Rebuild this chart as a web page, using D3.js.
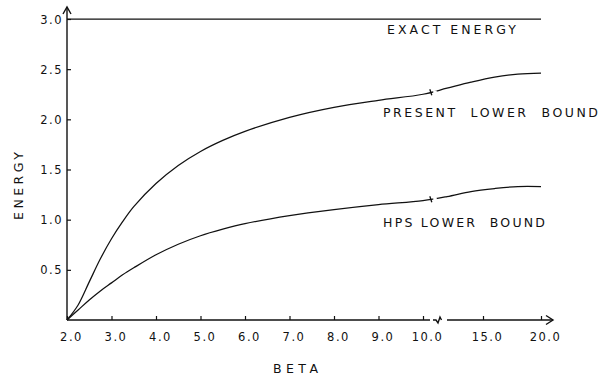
<!DOCTYPE html>
<html>
<head>
<meta charset="utf-8">
<script src="https://cdn.jsdelivr.net/npm/d3@7"></script>
<style>
  body { margin: 0; background: #fff; }
  svg { display: block; }
  text { font-family: "DejaVu Sans", sans-serif; fill: #111; }
</style>
</head>
<body>
<svg id="chart" width="603" height="378"></svg>
<script>
// ---- data ----
var betaVals = [2.0, 2.25, 2.5, 2.75, 3.0, 3.25, 3.5, 4.0, 4.5, 5.0, 5.5, 6.0, 7.0, 8.0, 9.0, 10.0, 12.0, 14.0, 16.0, 18.0, 20.0];
var presentBound = [0, 0.15, 0.38, 0.61, 0.81, 0.98, 1.13, 1.36, 1.54, 1.68, 1.79, 1.88, 2.02, 2.12, 2.19, 2.25, 2.31, 2.37, 2.42, 2.45, 2.46];
var hpsBound = [0, 0.10, 0.20, 0.29, 0.37, 0.45, 0.52, 0.65, 0.755, 0.84, 0.905, 0.96, 1.04, 1.10, 1.15, 1.19, 1.23, 1.28, 1.31, 1.33, 1.33];
var exactBeta = [2.0, 20.0];
var exactEnergy = [3.0, 3.0];

var xTicks = [2, 3, 4, 5, 6, 7, 8, 9, 10, 15, 20];
var xTickLabels = ["2.0", "3.0", "4.0", "5.0", "6.0", "7.0", "8.0", "9.0", "10.0", "15.0", "20.0"];
var yTicks = [0.5, 1.0, 1.5, 2.0, 2.5, 3.0];
var yTickLabels = ["0.5", "1.0", "1.5", "2.0", "2.5", "3.0"];

var axisBreak = 11.25;   // squiggle on the beta axis
var curveBreak = 10.65;  // small marks on the curves

var svg = d3.select("#chart");

// broken beta axis: 2..10 evenly, then 15, 20 compressed
var x = d3.scaleLinear()
    .domain([2, 10, 15, 20])
    .range([67, 423, 483, 541]);

var y = d3.scaleLinear()
    .domain([0, 3])
    .range([320, 19]);

// axes (ticks point inward like the original drawing)
var xAxis = svg.append("g")
    .attr("transform", "translate(0," + y(0) + ")")
    .call(d3.axisBottom(x)
        .tickValues(xTicks)
        .tickFormat(function(d, i) { return xTickLabels[i]; })
        .tickSizeInner(-4)
        .tickSizeOuter(0)
        .tickPadding(13));
xAxis.select(".domain").remove();
xAxis.selectAll("text")
    .attr("dx", 4)
    .style("font-size", "11.5px")
    .style("letter-spacing", "1.5px");

var yAxis = svg.append("g")
    .attr("transform", "translate(" + x(2) + ",0)")
    .call(d3.axisLeft(y)
        .tickValues(yTicks)
        .tickFormat(function(d, i) { return yTickLabels[i]; })
        .tickSizeInner(-4)
        .tickSizeOuter(0)
        .tickPadding(4));
yAxis.select(".domain").remove();
yAxis.selectAll("text")
    .attr("dy", "0.36em")
    .style("font-size", "11.5px")
    .style("letter-spacing", "1.5px");
svg.selectAll(".tick line").attr("stroke", "#111").attr("stroke-width", 1.2);

function styled(sel) {
  return sel.attr("stroke", "#111").attr("stroke-width", 1.4).attr("fill", "none");
}

// y axis line with arrow
var y0 = y(0), yTop = y(3) - 12, x0 = x(2);
styled(svg.append("path")
    .attr("d", "M" + x0 + "," + y0 + "V" + yTop));
styled(svg.append("path")
    .attr("d", "M" + (x0 - 4) + "," + (yTop + 7) + "L" + x0 + "," + yTop + "L" + (x0 + 4) + "," + (yTop + 7)));

// x axis line, broken, with arrow
var xb = x(axisBreak), xEnd = x(20) + 12;
styled(svg.append("path")
    .attr("d", "M" + x0 + "," + y0 + "H" + (xb - 8)));
styled(svg.append("path")
    .attr("d", "M" + (xb - 5) + "," + y0 + "H" + (xb - 2) + "L" + (xb) + "," + (y0 + 3) +
               "L" + (xb + 2) + "," + (y0 - 3) + "L" + (xb + 3.5) + "," + y0));
styled(svg.append("path")
    .attr("d", "M" + (xb + 9) + "," + y0 + "H" + xEnd));
styled(svg.append("path")
    .attr("d", "M" + (xEnd - 7) + "," + (y0 - 4.5) + "L" + xEnd + "," + y0 + "L" + (xEnd - 7) + "," + (y0 + 4.5)));

// curves
var line = d3.line()
    .x(function(d) { return x(d[0]); })
    .y(function(d) { return y(d[1]); })
    .curve(d3.curveCatmullRom.alpha(0.5));

var series = [
  { name: "exact", beta: exactBeta, vals: exactEnergy },
  { name: "present", beta: betaVals, vals: presentBound },
  { name: "hps", beta: betaVals, vals: hpsBound }
];

svg.selectAll(".curve")
    .data(series)
  .enter().append("path")
    .attr("class", "curve")
    .attr("d", function(s) { return line(s.beta.map(function(b, i) { return [b, s.vals[i]]; })); })
    .attr("fill", "none")
    .attr("stroke", "#111")
    .attr("stroke-width", 1.25);

// break marks on the two bound curves
function interp(vals, b) {
  return d3.scaleLinear().domain(betaVals).range(vals)(b);
}
[presentBound, hpsBound].forEach(function(vals) {
  var cx = x(curveBreak), cy = y(interp(vals, curveBreak));
  // small gap after the mark
  svg.append("line")
    .attr("x1", cx + 2.5).attr("x2", cx + 6)
    .attr("y1", cy).attr("y2", cy - 0.3)
    .attr("stroke", "#fff").attr("stroke-width", 3);
  svg.append("path")
    .attr("d", "M" + (cx - 1) + "," + (cy - 3) + "L" + (cx + 1) + "," + (cy + 3))
    .attr("stroke", "#111").attr("stroke-width", 1.3).attr("fill", "none");
});

// curve labels
var labels = [
  { text: "EXACT ENERGY", x: 387, y: 34, len: 129 },
  { text: "PRESENT  LOWER  BOUND", x: 383, y: 117, len: 215 },
  { text: "HPS LOWER  BOUND", x: 383, y: 227, len: 162 }
];
svg.selectAll(".lbl")
    .data(labels)
  .enter().append("text")
    .attr("class", "lbl")
    .attr("x", function(d) { return d.x; })
    .attr("y", function(d) { return d.y; })
    .attr("textLength", function(d) { return d.len; })
    .attr("lengthAdjust", "spacing")
    .style("font-size", "12.5px")
    .style("white-space", "pre")
    .text(function(d) { return d.text; });

// axis titles
svg.append("text")
    .attr("x", 273)
    .attr("y", 373)
    .attr("textLength", 45)
    .attr("lengthAdjust", "spacing")
    .style("font-size", "12.5px")
    .text("BETA");

svg.append("text")
    .attr("transform", "translate(23,220) rotate(-90)")
    .attr("textLength", 68)
    .attr("lengthAdjust", "spacing")
    .style("font-size", "12.5px")
    .text("ENERGY");
</script>
</body>
</html>
